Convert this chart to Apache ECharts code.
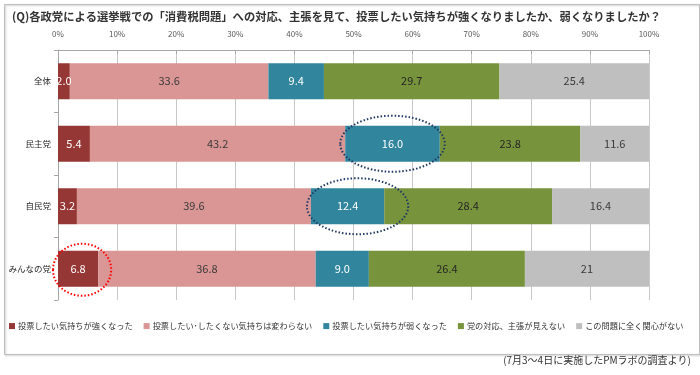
<!DOCTYPE html>
<html>
<head>
<meta charset="utf-8">
<script src="https://cdn.jsdelivr.net/npm/echarts@6/dist/echarts.min.js"></script>
<style>
  html, body { margin: 0; padding: 0; background: #fff; }
  #chart { width: 700px; height: 375px; }
</style>
</head>
<body>
<div id="chart"></div>
<script>
// parties (top to bottom)
const parties = ['全体', '民主党', '自民党', 'みんなの党'];
const seriesNames = [
  '投票したい気持ちが強くなった',
  '投票したい･したくない気持ちは変わらない',
  '投票したい気持ちが弱くなった',
  '党の対応、主張が見えない',
  'この問題に全く関心がない'
];
// values per answer, in party order
const stronger  = ['2.0', '5.4', '3.2', '6.8'];
const unchanged = ['33.6', '43.2', '39.6', '36.8'];
const weaker    = ['9.4', '16.0', '12.4', '9.0'];
const unclear   = ['29.7', '23.8', '28.4', '26.4'];
const noInterest = ['25.4', '11.6', '16.4', '21'];
const xTicks = [0, 10, 20, 30, 40, 50, 60, 70, 80, 90, 100];

const colors = ['#953735', '#D99694', '#31859C', '#77933C', '#BFBFBF'];
const labelColors = ['#ffffff', '#3a3a3a', '#ffffff', '#262626', '#3a3a3a'];
const allData = [stronger, unchanged, weaker, unclear, noInterest];

const font = '"Noto Sans CJK JP", "Noto Sans", sans-serif';

const chart = echarts.init(document.getElementById('chart'));

const series = allData.map(function (arr, i) {
  return {
    name: seriesNames[i],
    type: 'bar',
    stack: 'total',
    barWidth: 36,
    data: arr,
    itemStyle: { color: colors[i] },
    label: {
      show: true,
      position: 'inside',
      color: labelColors[i],
      fontSize: 11,
      fontFamily: font,
      formatter: function (p) { return p.data; }
    },
    emphasis: { disabled: true }
  };
});

chart.setOption({
  animation: false,
  textStyle: { fontFamily: font },
  title: {
    text: '(Q)各政党による選挙戦での「消費税問題」への対応、主張を見て、投票したい気持ちが強くなりましたか、弱くなりましたか？',
    left: 7,
    top: 6,
    textStyle: { fontSize: 11.3, fontWeight: 'bold', color: '#333', fontFamily: font }
  },
  legend: {
    top: 322,
    left: 9,
    width: 800,
    padding: 0,
    itemWidth: 6,
    itemHeight: 6,
    itemGap: 11,
    icon: 'rect',
    textStyle: { fontSize: 8.2, color: '#333', fontFamily: font, padding: [0, 0, 0, -2] },
    data: seriesNames
  },
  grid: { left: 58, right: 51, top: 50, bottom: 75, containLabel: false },
  xAxis: {
    type: 'value',
    position: 'top',
    min: xTicks[0],
    max: xTicks[xTicks.length - 1],
    interval: 10,
    axisLine: { show: true, lineStyle: { color: '#A6A6A6' } },
    axisTick: { show: true, inside: true, length: 4, lineStyle: { color: '#A6A6A6' } },
    axisLabel: { fontSize: 8, color: '#595959', formatter: '{value}%', margin: 12 },
    splitLine: { show: true, lineStyle: { color: '#C8C8C8' } }
  },
  yAxis: {
    type: 'category',
    inverse: true,
    data: parties,
    axisLine: { show: true, lineStyle: { color: '#A6A6A6' } },
    axisTick: { show: true, length: 4, lineStyle: { color: '#A6A6A6' } },
    axisLabel: { fontSize: 8.5, color: '#262626', margin: 7 }
  },
  series: series
});

// annotation ellipses around highlighted segments
function segCenter(seriesIdx, catIdx) {
  let start = 0;
  for (let i = 0; i < seriesIdx; i++) start += parseFloat(allData[i][catIdx]);
  const v = parseFloat(allData[seriesIdx][catIdx]);
  const p1 = chart.convertToPixel({ gridIndex: 0 }, [start, catIdx]);
  const p2 = chart.convertToPixel({ gridIndex: 0 }, [start + v, catIdx]);
  return { cx: (p1[0] + p2[0]) / 2, cy: p1[1], half: (p2[0] - p1[0]) / 2 };
}
const e1 = segCenter(2, 1);
const e2 = segCenter(2, 2);
const e3 = segCenter(0, 3);

chart.setOption({
  graphic: [
    {
      type: 'rect', left: 2, top: 2, z: -10,
      shape: { width: 695, height: 350 },
      style: { fill: 'none', stroke: '#BFBFBF', lineWidth: 1, shadowColor: 'rgba(0,0,0,0.25)', shadowOffsetX: 1, shadowOffsetY: 1, shadowBlur: 2 }
    },
    {
      type: 'ellipse', z: 100,
      shape: { cx: e1.cx, cy: e1.cy, rx: e1.half + 5, ry: 28 },
      style: { fill: 'none', stroke: '#1F3864', lineWidth: 2, lineDash: [1.5, 2] }
    },
    {
      type: 'ellipse', z: 100,
      shape: { cx: e2.cx + 10, cy: e2.cy, rx: e2.half + 14, ry: 28 },
      style: { fill: 'none', stroke: '#1F3864', lineWidth: 2, lineDash: [1.5, 2] }
    },
    {
      type: 'ellipse', z: 100,
      shape: { cx: e3.cx + 4, cy: e3.cy + 1, rx: e3.half + 9, ry: 26 },
      style: { fill: 'none', stroke: '#FF0000', lineWidth: 2, lineDash: [1.5, 2] }
    },
    {
      type: 'text', right: 9, top: 355,
      style: { text: '(7月3～4日に実施したPMラボの調査より)', fontSize: 10, fill: '#333', fontFamily: font }
    }
  ]
});
</script>
</body>
</html>
